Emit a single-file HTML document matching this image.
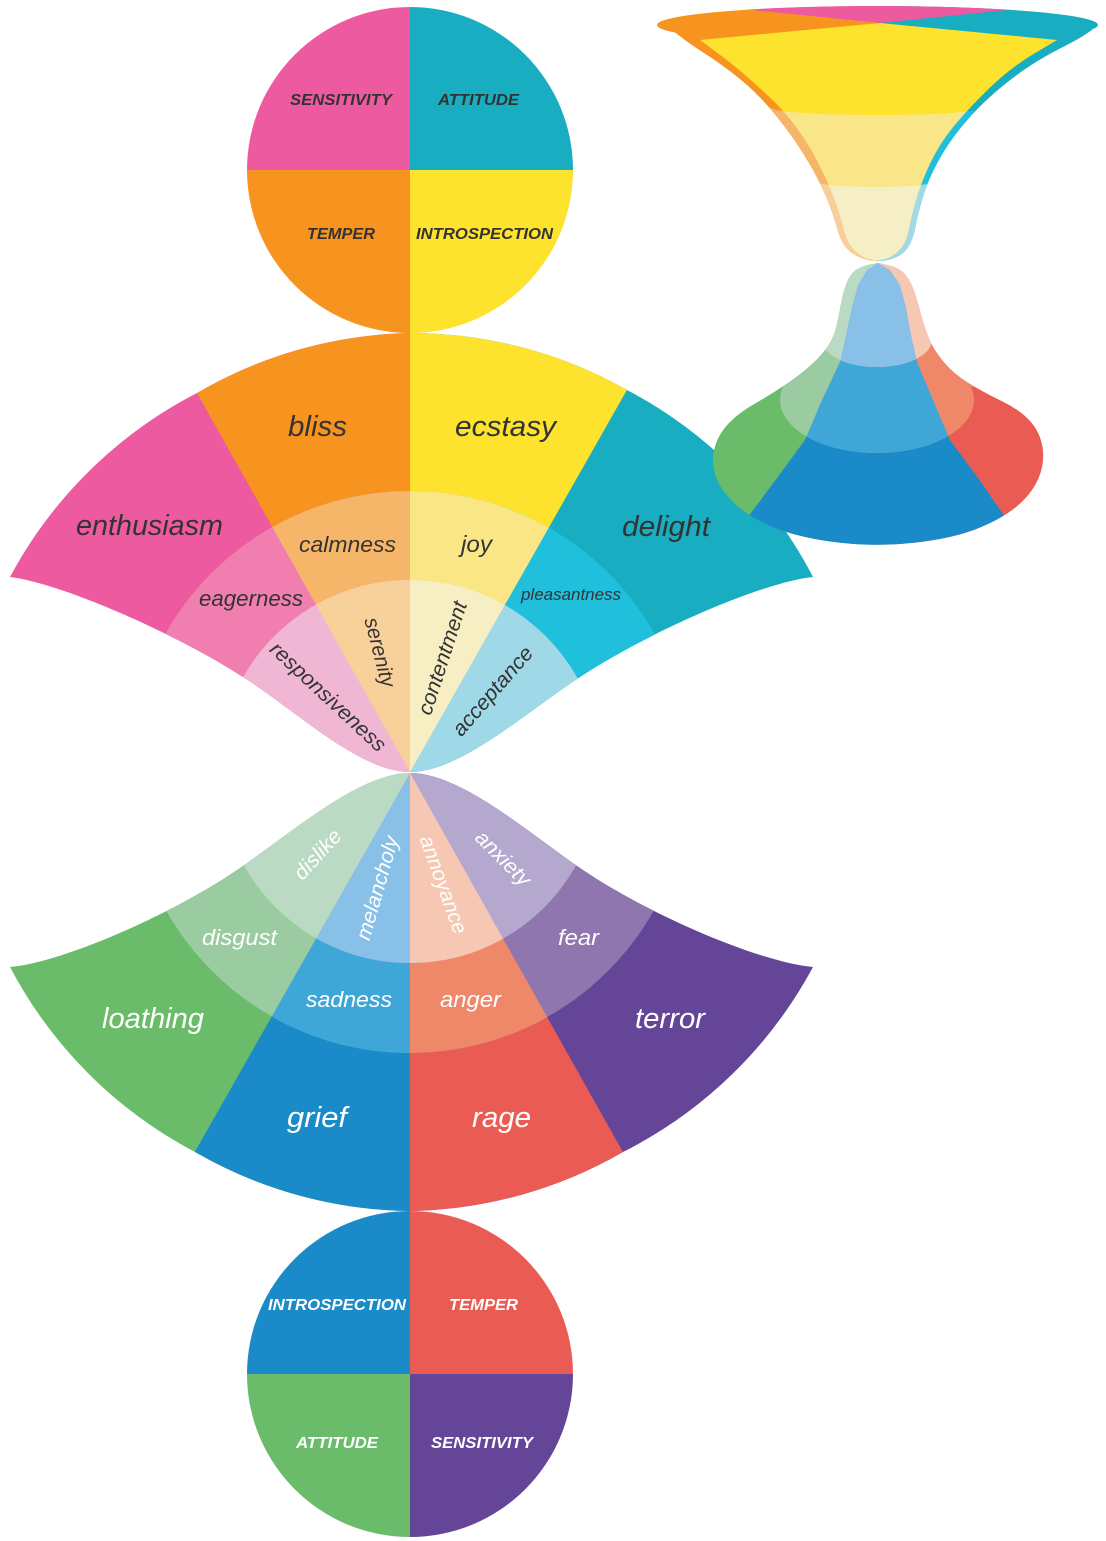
<!DOCTYPE html>
<html><head><meta charset="utf-8"><style>
html,body{margin:0;padding:0;background:#fff;}
svg{display:block;}
text{font-family:"Liberation Sans",Arial,sans-serif;}
.t{font-style:italic;fill:#333;text-anchor:middle;}
.w{font-style:italic;fill:#fff;text-anchor:middle;}
.cb{font-style:italic;font-weight:bold;text-anchor:middle;font-size:16px;}
</style></head><body>
<svg width="1106" height="1541" viewBox="0 0 1106 1541" xmlns="http://www.w3.org/2000/svg">
<defs>
<clipPath id="tf"><path d="M410,772 C360,772 299,713 243,677 C173,632 60,583 10,577 A440,440 0 0 1 197,393 A440,440 0 0 1 410,333 A440,440 0 0 1 627,390 A440,440 0 0 1 813,577 C763,582 650,631 580,677 C525,713 460,772 410,772 Z"/></clipPath>
<clipPath id="bf"><path d="M410,773 C360,773 295,830 240,868 C170,916 60,963 10,967 A440,440 0 0 0 195,1152 A440,440 0 0 0 410,1211 A440,440 0 0 0 623,1152 A440,440 0 0 0 813,967 C763,963 650,916 580,868 C525,830 460,773 410,773 Z"/></clipPath>
<clipPath id="fs"><ellipse cx="877.5" cy="25" rx="220.5" ry="19"/><path d="M672,25 L672,30 L681,37 Q690,44 704,53 Q718,62 733,73.5 Q748,85 760,97.5 Q772,110 784.5,126.5 Q797,143 807.5,160.5 Q818,178 825.5,195.5 Q833,213 836.5,226.5 Q840,240 846,247.5 Q852,255 864.5,259 Q877,263 889.5,259.5 Q902,256 907.5,248 Q913,240 915.5,226.5 Q918,213 923,196.5 Q928,180 938,161.5 Q948,143 963,125 Q978,107 995.5,92 Q1013,77 1029,66.5 Q1045,56 1061,48 Q1077,40 1084.5,35 L1092,30 L1092,25 Z"/></clipPath>
<clipPath id="fi"><path d="M880,23 L700,40 L717.5,53 Q735,66 748.5,78 Q762,90 773.5,101 Q785,112 796.5,127.5 Q808,143 817.5,161.5 Q827,180 833.5,196.5 Q840,213 843,226.5 Q846,240 852,247.5 Q858,255 867.5,258.5 Q877,262 886.5,258.5 Q896,255 901.5,247.5 Q907,240 909.5,226.5 Q912,213 917,196.5 Q922,180 931,161.5 Q940,143 953.5,126.5 Q967,110 988.5,89 Q1010,68 1033.5,54 L1057,40 Z"/></clipPath>
<clipPath id="b2"><path d="M600,108 L772,108 A105,7 0 0 0 982,108 L1110,108 L1110,300 L600,300 Z"/></clipPath>
<clipPath id="b3"><path d="M600,182 L818,182 A57,5 0 0 0 932,182 L1110,182 L1110,300 L600,300 Z"/></clipPath>
<clipPath id="bs"><path d="M878,263 L870,264.5 Q862,266 856,270 Q850,274 846.5,283.5 Q843,293 841,304 Q839,315 836.5,326 Q834,337 828,346 Q822,355 811,365 Q800,375 785,385 Q770,395 755,403.5 Q740,412 729.5,422.5 Q719,433 715,446.5 Q711,460 715,474 Q719,488 733.5,502.5 Q748,517 774,527.5 Q800,538 838.5,542.5 Q877,547 916,542.5 Q955,538 980,527.5 Q1005,517 1019,504.5 Q1033,492 1039,477 Q1045,462 1042.5,447 Q1040,432 1030,421 Q1020,410 1002.5,401.5 Q985,393 970,384 Q955,375 945,363.5 Q935,352 930,341 Q925,330 921.5,316.5 Q918,303 914.5,292.5 Q911,282 905.5,275 Q900,268 889,265.5 L878,263 Z"/></clipPath>
<clipPath id="bm"><ellipse cx="877" cy="400" rx="97" ry="53"/><rect x="600" y="0" width="600" height="387"/></clipPath>
<clipPath id="bt"><ellipse cx="877" cy="340" rx="55" ry="27"/><rect x="600" y="0" width="600" height="340"/></clipPath>
<path id="wedge" d="M878,263 L867,270 L858,285 L852,307 L847,330 L840,362 L822,400 L805,440 L777,478 L748,517 L725,550 L725,580 L1035,580 L1030,550 L1005,517 L978,478 L950,440 L933,400 L917,362 L910,330 L906,307 L900,285 L890,270 Z"/>
</defs>

<rect x="0" y="0" width="1106" height="1541" fill="#fff"/>

<!-- top circle -->
<path d="M410,170 L410,7 A163,163 0 0 0 247,170 Z" fill="#ee5a9f"/>
<path d="M410,170 L410,7 A163,163 0 0 1 573,170 Z" fill="#18adc1"/>
<path d="M410,170 L247,170 A163,163 0 0 0 410,333 Z" fill="#f7941f"/>
<path d="M410,170 L573,170 A163,163 0 0 1 410,333 Z" fill="#fde22e"/>
<g class="cb" fill="#333">
<text x="341" y="105" textLength="102" lengthAdjust="spacingAndGlyphs">SENSITIVITY</text>
<text x="478.5" y="105" textLength="81" lengthAdjust="spacingAndGlyphs">ATTITUDE</text>
<text x="341" y="239" textLength="68" lengthAdjust="spacingAndGlyphs">TEMPER</text>
<text x="484.5" y="239" textLength="137" lengthAdjust="spacingAndGlyphs">INTROSPECTION</text>
</g>

<!-- top fan -->
<g clip-path="url(#tf)">
<rect x="0" y="300" width="410" height="480" fill="#ee5a9f"/>
<rect x="410" y="300" width="420" height="480" fill="#18adc1"/>
<polygon points="410,772 410,100 28,92" fill="#f7941f"/>
<polygon points="410,772 410,100 795,94" fill="#fde22e"/>
<path d="M410,772 L410,491 A281,281 0 0 0 410,1053 Z" fill="#f07fb0"/>
<path d="M410,772 L410,491 A281,281 0 0 1 410,1053 Z" fill="#20c0dc"/>
<path d="M410,772 L410,491 A281,281 0 0 0 272.3,527.1 Z" fill="#f5b669"/>
<path d="M410,772 L410,491 A281,281 0 0 1 548.8,527.6 Z" fill="#fae685"/>
<path d="M410,772 L410,580 A192,192 0 0 0 410,964 Z" fill="#f0b7d5"/>
<path d="M410,772 L410,580 A192,192 0 0 1 410,964 Z" fill="#9fd9e7"/>
<path d="M410,772 L410,580 A192,192 0 0 0 315.9,604.6 Z" fill="#f8d09a"/>
<path d="M410,772 L410,580 A192,192 0 0 1 504.8,605 Z" fill="#f7eec4"/>
</g>
<g class="t">
<text x="317.5" y="436" font-size="29" textLength="59" lengthAdjust="spacingAndGlyphs">bliss</text>
<text x="505.5" y="436" font-size="29" textLength="101" lengthAdjust="spacingAndGlyphs">ecstasy</text>
<text x="149.5" y="535" font-size="29" textLength="147" lengthAdjust="spacingAndGlyphs">enthusiasm</text>
<text x="666" y="536" font-size="29" textLength="88" lengthAdjust="spacingAndGlyphs">delight</text>
<text x="347.5" y="552" font-size="22" textLength="97" lengthAdjust="spacingAndGlyphs">calmness</text>
<text x="476.5" y="552" font-size="23" textLength="31" lengthAdjust="spacingAndGlyphs">joy</text>
<text x="251" y="606" font-size="22" textLength="104" lengthAdjust="spacingAndGlyphs">eagerness</text>
<text x="571" y="600" font-size="17" textLength="100" lengthAdjust="spacingAndGlyphs">pleasantness</text>
<text transform="translate(327.5,697.5) rotate(43)" x="0" y="6" font-size="21" textLength="150" lengthAdjust="spacingAndGlyphs">responsiveness</text>
<text transform="translate(379,652.5) rotate(75.5)" x="0" y="6" font-size="21" textLength="71" lengthAdjust="spacingAndGlyphs">serenity</text>
<text transform="translate(443.3,658.3) rotate(-72)" x="0" y="6" font-size="21" textLength="118" lengthAdjust="spacingAndGlyphs">contentment</text>
<text transform="translate(493.3,691.7) rotate(-49)" x="0" y="6" font-size="21" textLength="111" lengthAdjust="spacingAndGlyphs">acceptance</text>
</g>

<!-- bottom fan -->
<g clip-path="url(#bf)">
<rect x="0" y="760" width="410" height="500" fill="#6abc6a"/>
<rect x="410" y="760" width="420" height="500" fill="#644598"/>
<polygon points="410,773 410,1500 25,1451" fill="#1a8ac9"/>
<polygon points="410,773 410,1500 792,1453" fill="#ea5c53"/>
<path d="M410,773 L410,1053 A280,280 0 0 1 410,493 Z" fill="#9bcba0"/>
<path d="M410,773 L410,1053 A280,280 0 0 0 410,493 Z" fill="#8f76af"/>
<path d="M410,773 L410,1053 A280,280 0 0 1 271.8,1016.5 Z" fill="#3fa7d7"/>
<path d="M410,773 L410,1053 A280,280 0 0 0 547.2,1017.2 Z" fill="#ef8868"/>
<path d="M410,773 L410,963 A190,190 0 0 1 410,583 Z" fill="#bbdac4"/>
<path d="M410,773 L410,963 A190,190 0 0 0 410,583 Z" fill="#b4a8cf"/>
<path d="M410,773 L410,963 A190,190 0 0 1 316.2,938.2 Z" fill="#89c0e7"/>
<path d="M410,773 L410,963 A190,190 0 0 0 503.1,938.7 Z" fill="#f6c7b2"/>
</g>
<g class="w">
<text x="153" y="1028" font-size="29" textLength="102" lengthAdjust="spacingAndGlyphs">loathing</text>
<text x="317" y="1127" font-size="29" textLength="60" lengthAdjust="spacingAndGlyphs">grief</text>
<text x="501.5" y="1127" font-size="29" textLength="59" lengthAdjust="spacingAndGlyphs">rage</text>
<text x="670" y="1028" font-size="29" textLength="70" lengthAdjust="spacingAndGlyphs">terror</text>
<text x="349" y="1007" font-size="22" textLength="86" lengthAdjust="spacingAndGlyphs">sadness</text>
<text x="470.5" y="1007" font-size="22" textLength="61" lengthAdjust="spacingAndGlyphs">anger</text>
<text x="239.5" y="945" font-size="22" textLength="75" lengthAdjust="spacingAndGlyphs">disgust</text>
<text x="578.5" y="945" font-size="22" textLength="41" lengthAdjust="spacingAndGlyphs">fear</text>
<text transform="translate(318.3,855) rotate(-47.7)" x="0" y="6" font-size="21" textLength="60" lengthAdjust="spacingAndGlyphs">dislike</text>
<text transform="translate(378.3,888.3) rotate(-74)" x="0" y="6" font-size="21" textLength="107" lengthAdjust="spacingAndGlyphs">melancholy</text>
<text transform="translate(442.5,885) rotate(70)" x="0" y="6" font-size="21" textLength="103" lengthAdjust="spacingAndGlyphs">annoyance</text>
<text transform="translate(502.5,859) rotate(45)" x="0" y="6" font-size="21" textLength="69" lengthAdjust="spacingAndGlyphs">anxiety</text>
</g>

<!-- bottom circle -->
<path d="M410,1374 L410,1211 A163,163 0 0 0 247,1374 Z" fill="#1a8ac9"/>
<path d="M410,1374 L410,1211 A163,163 0 0 1 573,1374 Z" fill="#ea5c53"/>
<path d="M410,1374 L247,1374 A163,163 0 0 0 410,1537 Z" fill="#6abc6a"/>
<path d="M410,1374 L573,1374 A163,163 0 0 1 410,1537 Z" fill="#644598"/>
<g class="cb" fill="#fff">
<text x="337" y="1310" textLength="138" lengthAdjust="spacingAndGlyphs">INTROSPECTION</text>
<text x="483.5" y="1310" textLength="69" lengthAdjust="spacingAndGlyphs">TEMPER</text>
<text x="337" y="1448" textLength="82" lengthAdjust="spacingAndGlyphs">ATTITUDE</text>
<text x="482" y="1448" textLength="102" lengthAdjust="spacingAndGlyphs">SENSITIVITY</text>
</g>

<!-- funnel (top right) -->
<g clip-path="url(#fs)">
<rect x="640" y="0" width="237" height="300" fill="#f7941f"/>
<rect x="877" y="0" width="230" height="300" fill="#18adc1"/>
<g clip-path="url(#b2)"><rect x="640" y="0" width="237" height="300" fill="#f5b669"/><rect x="877" y="0" width="230" height="300" fill="#20c0dc"/></g>
<g clip-path="url(#b3)"><rect x="640" y="0" width="237" height="300" fill="#f8cf9b"/><rect x="877" y="0" width="230" height="300" fill="#a2d9e6"/></g>
<polygon points="880,23 653,0 1105,0" fill="#ee5a9f"/>
<g clip-path="url(#fi)">
<rect x="640" y="0" width="470" height="300" fill="#fde22e"/>
<g clip-path="url(#b2)"><rect x="640" y="0" width="470" height="300" fill="#f9e688"/></g>
<g clip-path="url(#b3)"><rect x="640" y="0" width="470" height="300" fill="#f6eec5"/></g>
</g>
</g>

<!-- bell (bottom of hourglass) -->
<g clip-path="url(#bs)">
<rect x="690" y="250" width="187" height="320" fill="#6abc6a"/>
<rect x="877" y="250" width="180" height="320" fill="#ea5c53"/>
<use href="#wedge" fill="#1a8ac9"/>
<g clip-path="url(#bm)">
<rect x="690" y="250" width="187" height="320" fill="#9bcba0"/>
<rect x="877" y="250" width="180" height="320" fill="#ef8868"/>
<use href="#wedge" fill="#3fa7d7"/>
</g>
<g clip-path="url(#bt)">
<rect x="690" y="250" width="187" height="320" fill="#bbdac4"/>
<rect x="877" y="250" width="180" height="320" fill="#f6c7b2"/>
<use href="#wedge" fill="#89c0e7"/>
</g>
</g>
</svg>
</body></html>
